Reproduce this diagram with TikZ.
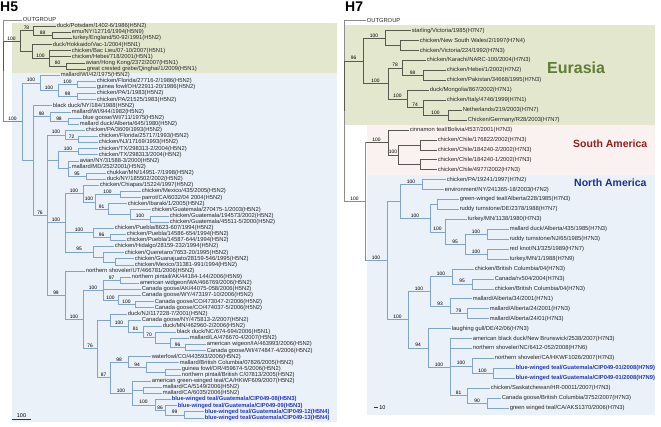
\documentclass[tikz,border=0pt]{standalone}
\usepackage{fontspec}
\setmainfont{Liberation Sans}
\usepackage{xcolor}
\usetikzlibrary{positioning}
\definecolor{eurbg}{RGB}{227,231,206}
\definecolor{nabg}{RGB}{234,241,248}
\definecolor{sabg}{RGB}{250,242,240}
\definecolor{eurgray}{RGB}{88,88,78}
\definecolor{rootgray}{RGB}{140,140,140}
\definecolor{nablue}{RGB}{128,165,205}
\definecolor{bwblue}{RGB}{35,55,200}
\definecolor{eurtext}{RGB}{95,125,55}
\definecolor{satext}{RGB}{150,30,30}
\definecolor{natext}{RGB}{28,50,140}
\tikzset{
  % --- leaves and support values ---------------------------------------------
  leaf/.style={anchor=west,inner sep=0.6pt,font=\fontsize{5.8}{6}\selectfont,
               text=black!85},
  leafbw/.style={leaf,font=\fontsize{5.8}{6}\selectfont\bfseries,text=bwblue},
  boot/.style={pos=.75,anchor=south,inner sep=0.6pt,
               font=\fontsize{4.9}{5}\selectfont},
  % --- branches ----------------------------------------------------------------
  rootline/.style={draw=rootgray,line width=0.9pt},
  eurline/.style={draw=eurgray,line width=0.55pt},
  naline/.style={draw=nablue,line width=0.6pt},
  % --- titles, regions, scale bars -------------------------------------------
  paneltitle/.style={anchor=north west,inner sep=0pt,
                     font=\fontsize{14}{14}\selectfont\bfseries},
  region/.style={anchor=west,inner sep=0pt},
  scalebar/.style={draw=black!80,line width=0.6pt},
}

\begin{document}
\begin{tikzpicture}[x=1pt,y=-1pt]
  \useasboundingbox (0,0) rectangle (661,426);

  % background panels
  \fill[eurbg] (12,23)    rectangle (337,72.5);
  \fill[nabg]  (12,72.5)  rectangle (337,422);
  \fill[eurbg] (344,25)   rectangle (655,125);
  \fill[sabg]  (367,125)  rectangle (655,174.6);
  \fill[nabg]  (367,174.6) rectangle (655,415);

  % ===================== H5 =====================
  \node[paneltitle] (h5) at (0,1.5) {H5};
  \coordinate (r5) at (3,70.8);
  \node[leaf] (og5) at (22,20.0) {OUTGROUP}; \draw[rootline] (r5) |- (og5);

  % Eurasia
  \coordinate (neur) at (20,41.1);  \draw[eurline] (r5) |- node[boot] (b1) {100} (neur);
  \coordinate (n78)  at (33,30.7);  \draw[eurline] (neur) |- node[boot] (b2) {78} (n78);
  \node[leaf] (potsdam) at (56,26.1) {duck/Potsdam/1402-6/1986(H5N2)}; \draw[eurline] (n78) |- (potsdam);
  \coordinate (n88)  at (52,35.3);  \draw[eurline] (n78) |- node[boot] (b3) {88} (n88);
  \node[leaf] (emu)       at (71,32.2) {emu/NY/12716/1994(H5N9)};          \draw[eurline] (n88) |- (emu);
  \node[leaf] (turkeyeng) at (72,38.4) {turkey/England/50-92/1991(H5N2)};  \draw[eurline] (n88) |- (turkeyeng);
  \coordinate (nhk)  at (32,51.4);  \draw[eurline] (neur) |- (nhk);
  \node[leaf] (hokkaido) at (52,44.5) {duck/Hokkaido/Vac-1/2004(H5N1)};    \draw[eurline] (nhk) |- (hokkaido);
  \coordinate (n100e) at (49,58.3); \draw[eurline] (nhk) |- node[boot] (b4) {100} (n100e);
  \node[leaf] (baclieu) at (71,50.6) {chicken/Bac Lieu/07-10/2007(H5N1)};  \draw[eurline] (n100e) |- (baclieu);
  \node[leaf] (hebei5)  at (71,56.7) {chicken/Hebei/718/2001(H5N1)};       \draw[eurline] (n100e) |- (hebei5);
  \coordinate (n80)  at (66,65.9);  \draw[eurline] (n100e) |- node[boot] (b5) {80} (n80);
  \node[leaf] (avianhk) at (85,62.8) {avian/Hong Kong/2372/2007(H5N1)};            \draw[eurline] (n80) |- (avianhk);
  \node[leaf] (grebe)   at (86,69.0) {great crested grebe/Qinghai/1/2009(H5N1)};   \draw[eurline] (n80) |- (grebe);

  % North America
  \coordinate (nna5) at (22,121.6); \draw[rootline] (r5) |- node[boot] (b6) {100} (nna5);
  \coordinate (nA) at (40,82.8);    \draw[naline] (nna5) |- node[boot] (b7) {100} (nA);
  \node[leaf] (mallwi42) at (60,75.1) {mallard/WI/42/1975(H5N2)};          \draw[naline] (nA) |- (mallwi42);
  \coordinate (nB) at (58,90.4);    \draw[naline] (nA) |- node[boot] (b8) {100} (nB);
  \coordinate (nC) at (77,84.3);    \draw[naline] (nB) |- node[boot] (b9) {100} (nC);
  \node[leaf] (fl86) at (96,81.2) {chicken/Florida/27716-2/1986(H5N2)};     \draw[naline] (nC) |- (fl86);
  \node[leaf] (gfoh) at (96,87.3) {guinea fowl/OH/22911-20/1986(H5N2)};    \draw[naline] (nC) |- (gfoh);
  \coordinate (nD) at (77,96.5);    \draw[naline] (nB) |- node[boot] (b10) {98} (nD);
  \node[leaf] (pa1)     at (96,93.4) {chicken/PA/1/1983(H5N2)};            \draw[naline] (nD) |- (pa1);
  \node[leaf] (pa21525) at (96,99.6) {chicken/PA/21525/1983(H5N2)};        \draw[naline] (nD) |- (pa21525);
  \coordinate (nE) at (33,160.4);   \draw[naline] (nna5) |- (nE);
  \node[leaf] (bdny) at (52,105.7) {black duck/NY/184/1988(H5N2)};         \draw[naline] (nE) |- (bdny);
  \coordinate (nF) at (50,116.4);   \draw[naline] (nE) |- node[boot] (b11) {98} (nF);
  \node[leaf] (mallwi944) at (71,111.8) {mallard/WI/944/1982(H5N2)};       \draw[naline] (nF) |- (mallwi944);
  \coordinate (nG) at (68,121.0);   \draw[naline] (nF) |- node[boot] (b12) {98} (nG);
  \node[leaf] (bgoose) at (82,117.9) {blue goose/WI/711/1975(H5N2)};       \draw[naline] (nG) |- (bgoose);
  \node[leaf] (mdalb)  at (79,124.0) {mallard duck/Alberta/645/1980(H5N2)}; \draw[naline] (nG) |- (mdalb);
  \coordinate (n76) at (47,215.0);  \draw[naline] (nE) |- node[boot] (b13) {76} (n76);
  \coordinate (nH) at (65,134.8);   \draw[naline] (n76) |- node[boot] (b14) {100} (nH);
  \node[leaf] (pa3609) at (85,130.2) {chicken/PA/3609/1993(H5N2)};         \draw[naline] (nH) |- (pa3609);
  \coordinate (nI) at (78,139.4);   \draw[naline] (nH) |- node[boot] (b15) {72} (nI);
  \node[leaf] (fl93) at (98,136.3) {chicken/Florida/25717/1993(H5N2)};     \draw[naline] (nI) |- (fl93);
  \node[leaf] (nj93) at (98,142.4) {chicken/NJ/17169/1993(H5N2)};          \draw[naline] (nI) |- (nj93);
  \coordinate (nTA) at (58,160.1);  \draw[naline] (n76) |- (nTA);
  \coordinate (nTX) at (78,151.6);  \draw[naline] (nTA) |- node[boot] (b16) {100} (nTX);
  \node[leaf] (tx2) at (98,148.5) {chicken/TX/298313-2/2004(H5N2)};        \draw[naline] (nTX) |- (tx2);
  \node[leaf] (tx)  at (98,154.6) {chicken/TX/298313/2004(H5N2)};          \draw[naline] (nTX) |- (tx);
  \coordinate (nAv) at (68,168.5);  \draw[naline] (nTA) |- (nAv);
  \node[leaf] (avny)   at (79,160.8) {avian/NY/31588-3/2000(H5N2)};        \draw[naline] (nAv) |- (avny);
  \node[leaf] (mallmd) at (71,166.9) {mallard/MD/252/2001(H5N2)};          \draw[naline] (nAv) |- (mallmd);
  \coordinate (n95a) at (86,176.1); \draw[naline] (nAv) |- node[boot] (b17) {95} (n95a);
  \node[leaf] (chukkar) at (106,173.0) {chukkar/MN/14951-7/1998(H5N2)};    \draw[naline] (n95a) |- (chukkar);
  \node[leaf] (duckny)  at (106,179.1) {duck/NY/185502/2002(H5N2)};        \draw[naline] (n95a) |- (duckny);

  \coordinate (nMx) at (65,222.7);  \draw[naline] (n76) |- node[boot] (b18) {100} (nMx);
  \coordinate (nM1) at (83,193.5);  \draw[naline] (nMx) |- node[boot] (b19) {100} (nM1);
  \node[leaf] (chiapas) at (99,185.2) {chicken/Chiapas/15224/1997(H5N2)};  \draw[naline] (nM1) |- (chiapas);
  \coordinate (nM2) at (95,201.8);  \draw[naline] (nM1) |- node[boot] (b20) {100} (nM2);
  \coordinate (nM3) at (120,194.5); \draw[naline] (nM2) |- node[boot] (b21) {100} (nM3);
  \node[leaf] (mex435) at (141,191.4) {chicken/Mexico/435/2005(H5N2)};     \draw[naline] (nM3) |- (mex435);
  \node[leaf] (parrot) at (141,197.5) {parrot/CA/6032/04 2004(H5N2)};      \draw[naline] (nM3) |- (parrot);
  \coordinate (nM4) at (108,209.0); \draw[naline] (nM2) |- node[boot] (b22) {91} (nM4);
  \node[leaf] (ibaraki) at (127,203.6) {chicken/Ibaraki/1/2005(H5N2)};     \draw[naline] (nM4) |- (ibaraki);
  \coordinate (nM5) at (130,214.3); \draw[naline] (nM4) |- (nM5);
  \node[leaf] (guat270) at (151,209.7) {chicken/Guatemala/270475-1/2003(H5N2)}; \draw[naline] (nM5) |- (guat270);
  \coordinate (nM6) at (150,218.9); \draw[naline] (nM5) |- node[boot] (b23) {100} (nM6);
  \node[leaf] (guat194) at (169,215.8) {chicken/Guatemala/194573/2002(H5N2)};   \draw[naline] (nM6) |- (guat194);
  \node[leaf] (guat455) at (169,222.0) {chicken/Guatemala/45511-5/2000(H5N2)};  \draw[naline] (nM6) |- (guat455);
  \coordinate (nP1) at (93,232.7);  \draw[naline] (nMx) |- node[boot] (b24) {100} (nP1);
  \node[leaf] (pue8623) at (114,228.1) {chicken/Puebla/8623-607/1994(H5N2)};    \draw[naline] (nP1) |- (pue8623);
  \coordinate (nP2) at (110,237.3); \draw[naline] (nP1) |- node[boot] (b25) {96} (nP2);
  \node[leaf] (pue14586) at (126,234.2) {chicken/Puebla/14586-654/1994(H5N2)};  \draw[naline] (nP2) |- (pue14586);
  \node[leaf] (pue14587) at (126,240.3) {chicken/Puebla/14587-644/1994(H5N2)};  \draw[naline] (nP2) |- (pue14587);
  \coordinate (nQ1) at (93,251.8);  \draw[naline] (nMx) |- node[boot] (b26) {95} (nQ1);
  \node[leaf] (hidalgo) at (114,246.4) {chicken/Hidalgo/28159-232/1994(H5N2)};  \draw[naline] (nQ1) |- (hidalgo);
  \coordinate (nQ2) at (103,257.2); \draw[naline] (nQ1) |- (nQ2);
  \node[leaf] (queretaro) at (124,252.6) {chicken/Queretaro/7653-20/1995(H5N2)}; \draw[naline] (nQ2) |- (queretaro);
  \coordinate (nQ3) at (115,261.8); \draw[naline] (nQ2) |- (nQ3);
  \node[leaf] (guanaj)   at (134,258.7) {chicken/Guanajuato/28159-546/1995(H5N2)}; \draw[naline] (nQ3) |- (guanaj);
  \node[leaf] (mex31381) at (134,264.8) {chicken/Mexico/31381-991/1994(H5N2)};   \draw[naline] (nQ3) |- (mex31381);

  \coordinate (n99) at (65,295.2);  \draw[naline] (n76) |- node[boot] (b27) {99} (n99);
  \node[leaf] (nshovut) at (85,270.9) {northern shoveler/UT/466781/2006(H5N2)};  \draw[naline] (n99) |- (nshovut);
  \coordinate (nN100) at (83,319.4); \draw[naline] (n99) |- node[boot] (b28) {100} (nN100);
  \coordinate (nW1) at (103,290.1);  \draw[naline] (nN100) |- node[boot] (b29) {100} (nW1);
  \coordinate (n97) at (120,280.1);  \draw[naline] (nW1) |- node[boot] (b30) {97} (n97);
  \node[leaf] (npak) at (131,277.0) {northern pintail/AK/44184-144/2006(H5N9)};  \draw[naline] (n97) |- (npak);
  \node[leaf] (awwa) at (139,283.2) {american widgeon/WA/466769/2006(H5N2)};     \draw[naline] (n97) |- (awwa);
  \node[leaf] (cgak) at (141,289.3) {Canada goose/AK/44075-058/2006(H5N2)};      \draw[naline] (nW1) |- (cgak);
  \coordinate (nW2) at (118,300.0);  \draw[naline] (nW1) |- node[boot] (b31) {100} (nW2);
  \node[leaf] (cgwy) at (141,295.4) {Canada goose/WY/473197-10/2006(H5N2)};      \draw[naline] (nW2) |- (cgwy);
  \coordinate (nW3) at (135,304.6);  \draw[naline] (nW2) |- node[boot] (b32) {100} (nW3);
  \node[leaf] (cgco1) at (154,301.5) {Canada goose/CO/473047-2/2006(H5N2)};     \draw[naline] (nW3) |- (cgco1);
  \node[leaf] (cgco2) at (154,307.6) {Canada goose/CO/474037-5/2006(H5N2)};     \draw[naline] (nW3) |- (cgco2);
  \coordinate (nN76) at (97,348.7);  \draw[naline] (nN100) |- node[boot] (b33) {76} (nN76);
  \coordinate (nD1) at (110,319.9);  \draw[naline] (nN76) |- (nD1);
  \node[leaf] (ducknj) at (127,313.8) {duck/NJ/117228-7/2001(H5N2)};             \draw[naline] (nD1) |- (ducknj);
  \coordinate (nD2) at (128,325.9);  \draw[naline] (nD1) |- node[boot] (b34) {100} (nD2);
  \node[leaf] (cgny) at (141,319.9) {Canada goose/NY/475813-2/2007(H5N2)};       \draw[naline] (nD2) |- (cgny);
  \coordinate (nD3) at (143,331.8);  \draw[naline] (nD2) |- node[boot] (b35) {81} (nD3);
  \node[leaf] (duckmn) at (162,326.0) {duck/MN/462960-2/2006(H5N2)};             \draw[naline] (nD3) |- (duckmn);
  \coordinate (nD4) at (155,337.5);  \draw[naline] (nD3) |- node[boot] (b36) {70} (nD4);
  \node[leaf] (bdnc) at (176,332.1) {black duck/NC/674-694/2006(H5N1)};          \draw[naline] (nD4) |- (bdnc);
  \coordinate (nD5) at (170,342.9);  \draw[naline] (nD4) |- (nD5);
  \node[leaf] (mallla) at (189,338.2) {mallard/LA/476670-4/2007(H5N2)};          \draw[naline] (nD5) |- (mallla);
  \coordinate (nD6) at (185,347.5);  \draw[naline] (nD5) |- node[boot] (b37) {96} (nD6);
  \node[leaf] (awia) at (206,344.4) {american wigeon/IA/463993/2006(H5N2)};      \draw[naline] (nD6) |- (awia);
  \node[leaf] (cgwi) at (206,350.5) {Canada goose/WI/474847-4/2006(H5N2)};       \draw[naline] (nD6) |- (cgwi);
  \coordinate (nN87) at (110,377.5); \draw[naline] (nN76) |- node[boot] (b38) {87} (nN87);
  \coordinate (nK1) at (128,362.0);  \draw[naline] (nN87) |- node[boot] (b39) {98} (nK1);
  \node[leaf] (wfco) at (151,356.6) {waterfowl/CO/443593/2006(H5N2)};            \draw[naline] (nK1) |- (wfco);
  \coordinate (nK2) at (146,367.3);  \draw[naline] (nK1) |- node[boot] (b40) {94} (nK2);
  \node[leaf] (mallbc) at (179,362.7) {mallard/British Columbia/07826/2005(H5N2)}; \draw[naline] (nK2) |- (mallbc);
  \coordinate (nK3) at (165,371.9);  \draw[naline] (nK2) |- (nK3);
  \node[leaf] (gfor) at (181,368.8) {guinea fowl/OR/459674-5/2006(H5N2)};        \draw[naline] (nK3) |- (gfor);
  \node[leaf] (npbc) at (181,375.0) {northern pintail/British C/07813/2005(H5N2)}; \draw[naline] (nK3) |- (npbc);
  \coordinate (nL1) at (132,393.0);  \draw[naline] (nN87) |- node[boot] (b41) {100} (nL1);
  \node[leaf] (agwt) at (151,381.1) {american green-winged teal/CA/HKWF609/2007(H5N2)}; \draw[naline] (nL1) |- (agwt);
  \coordinate (nL1b) at (143,390.3); \draw[naline] (nL1) |- (nL1b);
  \node[leaf] (mallca1) at (162,387.2) {mallard/CA/5149/2006(H5N2)};             \draw[naline] (nL1b) |- (mallca1);
  \node[leaf] (mallca2) at (162,393.3) {mallard/CA/6035/2006(H5N2)};             \draw[naline] (nL1b) |- (mallca2);
  \coordinate (nL2) at (155,404.8);  \draw[naline] (nL1) |- node[boot] (b42) {100} (nL2);
  \node[leafbw] (bw08) at (171,399.4) {blue-winged teal/Guatemala/CIP049-08(H5N3)}; \draw[naline] (nL2) |- (bw08);
  \coordinate (nL3) at (165,410.2);  \draw[naline] (nL2) |- node[boot] (b43) {86} (nL3);
  \node[leafbw] (bw09) at (177,405.6) {blue-winged teal/Guatemala/CIP049-09(H5N3)}; \draw[naline] (nL3) |- (bw09);
  \coordinate (nL4) at (184,414.8);  \draw[naline] (nL3) |- node[boot] (b44) {99} (nL4);
  \node[leafbw] (bw12) at (204,411.7) {blue-winged teal/Guatemala/CIP049-12(H5N4)}; \draw[naline] (nL4) |- (bw12);
  \node[leafbw] (bw13) at (204,417.8) {blue-winged teal/Guatemala/CIP049-13(H5N4)}; \draw[naline] (nL4) |- (bw13);

  \coordinate (sb1) at (12,419); \coordinate (sb2) at (31,419);
  \draw[scalebar] (sb1) -- node[above,inner sep=1pt,font=\fontsize{5.5}{6}\selectfont] (sb5) {100} (sb2);

  % ===================== H7 =====================
  \node[paneltitle] (h7) at (345,1.5) {H7};
  \coordinate (r7) at (344,111.1);
  \node[leaf] (og7) at (366,20.7) {OUTGROUP}; \draw[rootline] (r7) |- (og7);

  % Eurasia
  \coordinate (eu7)  at (363,60.8);  \draw[eurline] (r7) |- node[boot] (c1) {96} (eu7);
  \coordinate (euA)  at (385,38.1);  \draw[eurline] (eu7) |- node[boot] (c2) {100} (euA);
  \node[leaf] (starling) at (411,30.6) {starling/Victoria/1985(H7N7)};           \draw[eurline] (euA) |- (starling);
  \coordinate (euA2) at (400,45.6);  \draw[eurline] (euA) |- (euA2);
  \node[leaf] (nsw) at (419,40.6) {chicken/New South Wales/2/1997(H7N4)};        \draw[eurline] (euA2) |- (nsw);
  \node[leaf] (vic) at (419,50.5) {chicken/Victoria/224/1992(H7N3)};            \draw[eurline] (euA2) |- (vic);
  \coordinate (euB)  at (388,83.4);  \draw[eurline] (eu7) |- node[boot] (c3) {100} (euB);
  \coordinate (euB1) at (402,67.9);  \draw[eurline] (euB) |- node[boot] (c4) {78} (euB1);
  \node[leaf] (karachi) at (426,60.4) {chicken/Karachi/NARC-100/2004(H7N3)};     \draw[eurline] (euB1) |- (karachi);
  \coordinate (euB1b) at (423,75.4); \draw[eurline] (euB1) |- node[boot] (c5) {98} (euB1b);
  \node[leaf] (hebei7)   at (446,70.4) {chicken/Hebei/1/2002(H7N2)};             \draw[eurline] (euB1b) |- (hebei7);
  \node[leaf] (pakistan) at (446,80.3) {chicken/Pakistan/34668/1995(H7N3)};      \draw[eurline] (euB1b) |- (pakistan);
  \coordinate (euB2) at (407,98.9);  \draw[eurline] (euB) |- node[boot] (c6) {100} (euB2);
  \node[leaf] (mongolia) at (429,90.2) {duck/Mongolia/867/2002(H7N1)};          \draw[eurline] (euB2) |- (mongolia);
  \coordinate (euB3) at (423,107.6); \draw[eurline] (euB2) |- node[boot] (c7) {74} (euB3);
  \node[leaf] (italy) at (446,100.1) {chicken/Italy/4746/1999(H7N1)};            \draw[eurline] (euB3) |- (italy);
  \coordinate (euB4) at (448,115.1); \draw[eurline] (euB3) |- node[boot] (c8) {100} (euB4);
  \node[leaf] (nether)  at (462,110.1) {Netherlands/219/2003(H7N7)};             \draw[eurline] (euB4) |- (nether);
  \node[leaf] (germany) at (467,120.0) {Chicken/Germany/R28/2003(H7N7)};         \draw[eurline] (euB4) |- (germany);

  % South America
  \coordinate (am7) at (365,201.5);  \draw[rootline] (r7) |- node[boot] (c9) {100} (am7);
  \coordinate (sa7) at (388,142.4);  \draw[eurline] (am7) |- node[boot] (c10) {100} (sa7);
  \draw[rootline] (am7) -- (am7 |- sa7);
  \node[leaf] (cinnamon) at (409,129.9) {cinnamon teal/Bolivia/4537/2001(H7N3)};  \draw[eurline] (sa7) |- (cinnamon);
  \coordinate (sa2) at (398,154.8);  \draw[eurline] (sa7) |- node[boot] (c11) {100} (sa2);
  \coordinate (sa3) at (420,144.9);  \draw[eurline] (sa2) |- (sa3);
  \node[leaf] (chile1) at (437,139.9) {chicken/Chile/176822/2002(H7N3)};         \draw[eurline] (sa3) |- (chile1);
  \node[leaf] (chile2) at (437,149.8) {chicken/Chile/184240-2/2002(H7N3)};       \draw[eurline] (sa3) |- (chile2);
  \coordinate (sa4) at (420,164.7);  \draw[eurline] (sa2) |- (sa4);
  \node[leaf] (chile3) at (437,159.7) {chicken/Chile/184240-1/2002(H7N3)};       \draw[eurline] (sa4) |- (chile3);
  \node[leaf] (chile4) at (437,169.7) {chicken/Chile/4977/2002(H7N3)};           \draw[eurline] (sa4) |- (chile4);

  % North America
  \coordinate (na7) at (387,260.5);  \draw[naline] (am7) |- node[boot] (c12) {100} (na7);
  \draw[rootline] (am7) -- (am7 |- na7);
  \coordinate (nY) at (400,201.4);   \draw[naline] (na7) |- (nY);
  \coordinate (nNa) at (422,184.6);  \draw[naline] (nY) |- node[boot] (c13) {100} (nNa);
  \node[leaf] (pa97)  at (446,179.6) {chicken/PA/19241/1997(H7N2)};              \draw[naline] (nNa) |- (pa97);
  \node[leaf] (envny) at (444,189.5) {environment/NY/241365-18/2003(H7N2)};      \draw[naline] (nNa) |- (envny);
  \coordinate (nX) at (430,218.1);   \draw[naline] (nY) |- node[boot] (c14) {100} (nX);
  \coordinate (nNc) at (437,204.4);  \draw[naline] (nX) |- (nNc);
  \node[leaf] (gwtalb) at (459,199.4) {green-winged teal/Alberta/228/1985(H7N3)}; \draw[naline] (nNc) |- (gwtalb);
  \node[leaf] (rtde)   at (459,209.4) {ruddy turnstone/DE/2378/1988(H7N7)};      \draw[naline] (nNc) |- (rtde);
  \coordinate (nN100r) at (445,231.8); \draw[naline] (nX) |- node[boot] (c15) {100} (nN100r);
  \node[leaf] (tkmn1138) at (467,219.3) {turkey/MN/1138/1980(H7N3)};             \draw[naline] (nN100r) |- (tkmn1138);
  \coordinate (nN95) at (465,244.2); \draw[naline] (nN100r) |- node[boot] (c16) {95} (nN95);
  \coordinate (nNd) at (487,234.2);  \draw[naline] (nN95) |- node[boot] (c17) {100} (nNd);
  \node[leaf] (mdalb85) at (509,229.2) {mallard duck/Alberta/435/1985(H7N3)};    \draw[naline] (nNd) |- (mdalb85);
  \node[leaf] (rtnj)    at (509,239.2) {ruddy turnstone/NJ/65/1985(H7N3)};       \draw[naline] (nNd) |- (rtnj);
  \coordinate (nNe) at (487,254.1);  \draw[naline] (nN95) |- node[boot] (c18) {100} (nNe);
  \node[leaf] (redknot) at (509,249.1) {red knot/NJ/325/1989(H7N7)};             \draw[naline] (nNe) |- (redknot);
  \node[leaf] (tkmn1)   at (509,259.0) {turkey/MN/1/1988(H7N9)};                 \draw[naline] (nNe) |- (tkmn1);
  \coordinate (nZ0) at (408,319.6);  \draw[naline] (na7) |- node[boot] (c19) {100} (nZ0);
  \coordinate (nZ) at (430,291.4);   \draw[naline] (nZ0) |- node[boot] (c20) {100} (nZ);
  \coordinate (nZ1) at (452,276.5);  \draw[naline] (nZ) |- node[boot] (c21) {100} (nZ1);
  \node[leaf] (cbc1) at (474,269.0) {chicken/British Columbia/04(H7N3)};         \draw[naline] (nZ1) |- (cbc1);
  \coordinate (nZ95) at (472,283.9); \draw[naline] (nZ1) |- node[boot] (c22) {95} (nZ95);
  \node[leaf] (rv504) at (494,278.9) {Canada/rv504/2004(H7N3)};                  \draw[naline] (nZ95) |- (rv504);
  \node[leaf] (cbc2)  at (494,288.8) {chicken/British Columbia/04(H7N3)};        \draw[naline] (nZ95) |- (cbc2);
  \coordinate (nZ93) at (450,306.2); \draw[naline] (nZ) |- node[boot] (c23) {93} (nZ93);
  \node[leaf] (mall34) at (472,298.7) {mallard/Alberta/34/2001(H7N1)};           \draw[naline] (nZ93) |- (mall34);
  \coordinate (nZ79) at (467,313.7); \draw[naline] (nZ93) |- node[boot] (c24) {79} (nZ79);
  \node[leaf] (mall24a) at (489,308.7) {mallard/Alberta/24/2001(H7N3)};          \draw[naline] (nZ79) |- (mall24a);
  \node[leaf] (mall24b) at (489,318.6) {mallard/Alberta/24/01(H7N3)};            \draw[naline] (nZ79) |- (mall24b);
  \coordinate (nN94) at (428,347.8); \draw[naline] (nZ0) |- node[boot] (c25) {94} (nN94);
  \node[leaf] (lgull) at (451,328.5) {laughing gull/DE/42/06(H7N3)};             \draw[naline] (nN94) |- (lgull);
  \coordinate (nNB) at (450,367.1);  \draw[naline] (nN94) |- node[boot] (c26) {100} (nNB);
  \node[leaf] (abdnb) at (472,338.5) {american black duck/New Brunswick/2538/2007(H7N3)}; \draw[naline] (nNB) |- (abdnb);
  \node[leaf] (nsnc)  at (472,348.4) {northern shoveler/NC/6412-052/2008(H7N6)};  \draw[naline] (nNB) |- (nsnc);
  \coordinate (nNC1) at (472,365.8); \draw[naline] (nNB) |- node[boot] (c27) {100} (nNC1);
  \node[leaf] (nsca) at (494,358.3) {northern shoveler/CA/HKWF1026/2007(H7N3)};  \draw[naline] (nNC1) |- (nsca);
  \coordinate (nNC2) at (493,373.3); \draw[naline] (nNC1) |- node[boot] (c28) {100} (nNC2);
  \node[leafbw] (bw01a) at (515,368.3) {blue-winged teal/Guatemala/CIP049-01/2008(H7N9)}; \draw[naline] (nNC2) |- (bw01a);
  \node[leafbw] (bw01b) at (515,378.2) {blue-winged teal/Guatemala/CIP049-01/2008(H7N9)}; \draw[naline] (nNC2) |- (bw01b);
  \coordinate (nN81) at (467,395.6); \draw[naline] (nNB) |- node[boot] (c29) {81} (nN81);
  \node[leaf] (sask) at (490,388.1) {chicken/Saskatchewan/HR-00011/2007(H7N3)};  \draw[naline] (nN81) |- (sask);
  \coordinate (nN90) at (487,403.0); \draw[naline] (nN81) |- node[boot] (c30) {90} (nN90);
  \node[leaf] (cgbc)  at (501,398.0) {Canada goose/British Columbia/3752/2007(H7N3)}; \draw[naline] (nN90) |- (cgbc);
  \node[leaf] (gwtca) at (509,408.0) {green winged teal/CA/AKS1370/2006(H7N3)};     \draw[naline] (nN90) |- (gwtca);

  \coordinate (sb3) at (374,407.5); \coordinate (sb4) at (377.5,407.5);
  \draw[scalebar] (sb3) -- (sb4) node[right,inner sep=1.5pt,font=\fontsize{5.5}{6}\selectfont] (sb6) {10};

  % region names
  \node[region,text=eurtext,font=\fontsize{16}{16}\selectfont\bfseries] (eurasia) at (547,68)  {Eurasia};
  \node[region,text=satext,font=\fontsize{10.5}{11}\selectfont\bfseries] (samer) at (573,144) {South America};
  \node[region,text=natext,font=\fontsize{10.5}{11}\selectfont\bfseries] (namer) at (574,183) {North America};
\end{tikzpicture}
\end{document}
